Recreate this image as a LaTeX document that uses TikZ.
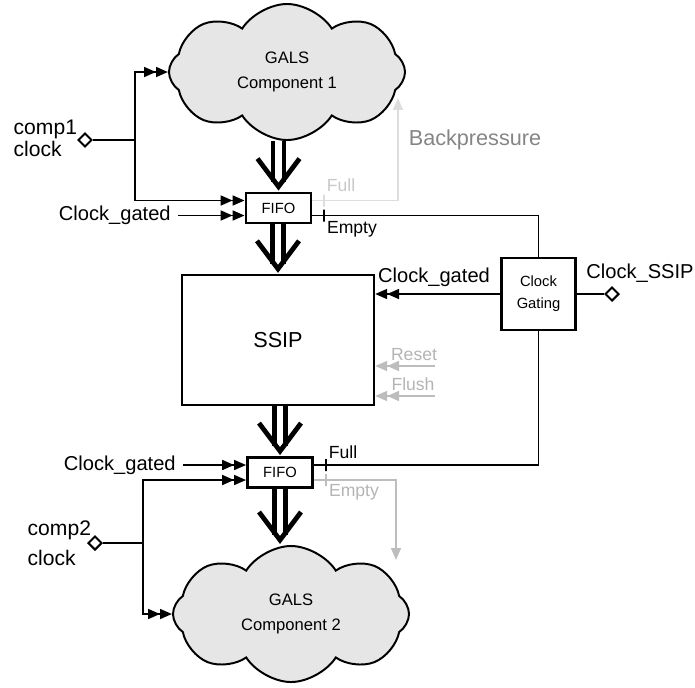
\documentclass[tikz,border=0pt]{standalone}
\usepackage{fontspec}
\setmainfont{Liberation Sans}
\usepackage{tikz}
\usetikzlibrary{arrows.meta,shapes.symbols,shapes.geometric}

\definecolor{cloudgray}{HTML}{E6E6E6}
\definecolor{paleline}{HTML}{DDDDDD}
\definecolor{palefont}{HTML}{C8C8C8}
\definecolor{greyline}{HTML}{BDBDBD}
\definecolor{greyfont}{HTML}{B4B4B4}
\definecolor{bpfont}{HTML}{858585}

% wide data path: two thick lines and an open head
\newcommand{\busarrow}[2]{%
  \draw[bus] ([shift={(-5.5,0)}]#2 |- #1) -- ([shift={(-5.5,-10)}]#2);
  \draw[bus] ([shift={(5.5,0)}]#2 |- #1) -- ([shift={(5.5,-10)}]#2);
  \draw[buschev] ([shift={(-21,-33)}]#2) -- ([shift={(0,-5)}]#2) -- ([shift={(21,-33)}]#2);
}

\begin{document}
\begin{tikzpicture}[x=0.025cm, y=-0.025cm,
    sig/.style={line width=1.4pt},
    dbl/.style={-{Triangle[length=8.5pt,width=7pt]Triangle[length=8.5pt,width=7pt]}},
    one/.style={-{Triangle[length=8.5pt,width=7pt]}},
    bus/.style={line width=3.3pt},
    buschev/.style={line width=3.4pt, line join=miter},
    blk/.style={draw, line width=1.6pt, fill=white, inner sep=0pt, align=center},
    fifo/.style={blk, line width=2pt, minimum width=1.625cm, minimum height=0.75cm,
      font=\fontsize{10.5}{12}\selectfont},
    gal/.style={cloud, cloud puffs=8, cloud puff arc=115, cloud ignores aspect, draw,
      line width=1.4pt, fill=cloudgray, minimum width=5.9cm, minimum height=3.4cm,
      align=center, font=\fontsize{11.8}{18}\selectfont},
    port/.style={diamond, draw, line width=1.4pt, fill=white, inner sep=0pt, minimum size=0.35cm},
    lbl/.style={font=\fontsize{14.3}{17}\selectfont, inner sep=1pt},
    flag/.style={font=\fontsize{12.5}{15}\selectfont, inner sep=1pt},
    tickmark/.style={draw, line width=1.4pt, inner sep=0pt, minimum width=0pt, minimum height=0.3cm}]
  \useasboundingbox (0,0) rectangle (695,687);

  % components and blocks
  \node[gal] (comp1) at (287,72) {GALS\\Component 1};
  \node[gal] (comp2) at (291,614) {GALS\\Component 2};
  \node[fifo] (fifo1) at (278.5,208) {FIFO};
  \node[blk, minimum width=4.8cm, minimum height=3.25cm, font=\fontsize{15.4}{18}\selectfont] (ssip) at (278,340) {SSIP};
  \node[fifo] (fifo2) at (280,472.5) {FIFO};
  \node[blk, line width=2pt, minimum width=1.83cm, minimum height=1.8cm, font=\fontsize{10.5}{15.5}\selectfont] (cg) at (538.5,294) {Clock\\Gating};

  % clock ports
  \node[port] (clk1) at (85,140) {};
  \node[port] (clk2) at (95,543) {};
  \node[port] (clkssip) at (612,294) {};
  \coordinate (j1) at (135,140);
  \coordinate (j2) at (143,543);

  % labels
  \node[lbl, font=\fontsize{15}{15.5}\selectfont, anchor=west, align=left] (cmp1lbl) at (12,138) {comp1\\clock};
  \node[lbl, font=\fontsize{15}{21}\selectfont, anchor=west, align=left] (cmp2lbl) at (26,543) {comp2\\clock};
  \node[lbl, anchor=east, inner xsep=5pt] (cg1lbl) at (178,215.5) {Clock\_gated};
  \node[lbl, anchor=east, inner xsep=5pt] (cg2lbl) at (183,465) {Clock\_gated};
  \node[lbl] (cg3lbl) at (434,277) {Clock\_gated};
  \node[lbl] (ssiplbl) at (640,273) {Clock\_SSIP};
  \node[flag] (emp1lbl) at (352,229) {Empty};
  \node[flag, palefont] (full1lbl) at (341,185) {Full};
  \node[lbl, font=\fontsize{15.4}{18}\selectfont, bpfont] (bplbl) at (475,140) {Backpressure};
  \node[flag, greyfont] (rstlbl) at (414,355) {Reset};
  \node[flag, greyfont] (fshlbl) at (413,384) {Flush};
  \node[flag] (full2lbl) at (343,452) {Full};
  \node[flag, greyfont] (emp2lbl) at (354,492) {Empty};

  \coordinate (bp) at (398,98);
  \coordinate (emp2end) at (396,560);
  \coordinate (rst) at (435,366);
  \coordinate (fsh) at (435,396);
  \coordinate (c2top) at (fifo2.south |- comp2.north);

  % data path
  \busarrow{comp1.south}{fifo1.north}
  \busarrow{fifo1.south}{ssip.north}
  \busarrow{ssip.south}{fifo2.north}
  \busarrow{fifo2.south}{c2top}

  % clocks
  \draw[sig] (clk1) -- (j1);
  \draw[sig, dbl] (j1) |- (comp1.west);
  \draw[sig, dbl] (j1) |- ([shift={(0,-7.5)}]fifo1.west);
  \draw[sig, dbl] (cg1lbl.east) -- (cg1lbl.east -| fifo1.west);
  \draw[sig] (clk2) -- (j2);
  \draw[sig, dbl] (j2) |- ([shift={(0,7.5)}]fifo2.west);
  \draw[sig, dbl] (j2) |- (comp2.west);
  \draw[sig, dbl] (cg2lbl.east) -- (cg2lbl.east -| fifo2.west);
  \draw[sig] (clkssip) -- (cg.east);
  \draw[sig, dbl] (cg.west) -- (cg.west -| ssip.east);

  % status flags
  \draw[sig] ([shift={(0,7.5)}]fifo1.east) -- ++(12,0) node[tickmark]{} -| (cg.north);
  \draw[sig, paleline, one] ([shift={(0,-7.5)}]fifo1.east) -- ++(12,0) node[tickmark]{} -| (bp);
  \draw[sig] ([shift={(0,-7.5)}]fifo2.east) -- ++(12,0) node[tickmark]{} -| (cg.south);
  \draw[sig, greyline, one] ([shift={(0,7.5)}]fifo2.east) -- ++(12,0) node[tickmark]{} -| (emp2end);
  \draw[sig, greyline, dbl] (rst) -- (rst -| ssip.east);
  \draw[sig, greyline, dbl] (fsh) -- (fsh -| ssip.east);
\end{tikzpicture}
\end{document}
